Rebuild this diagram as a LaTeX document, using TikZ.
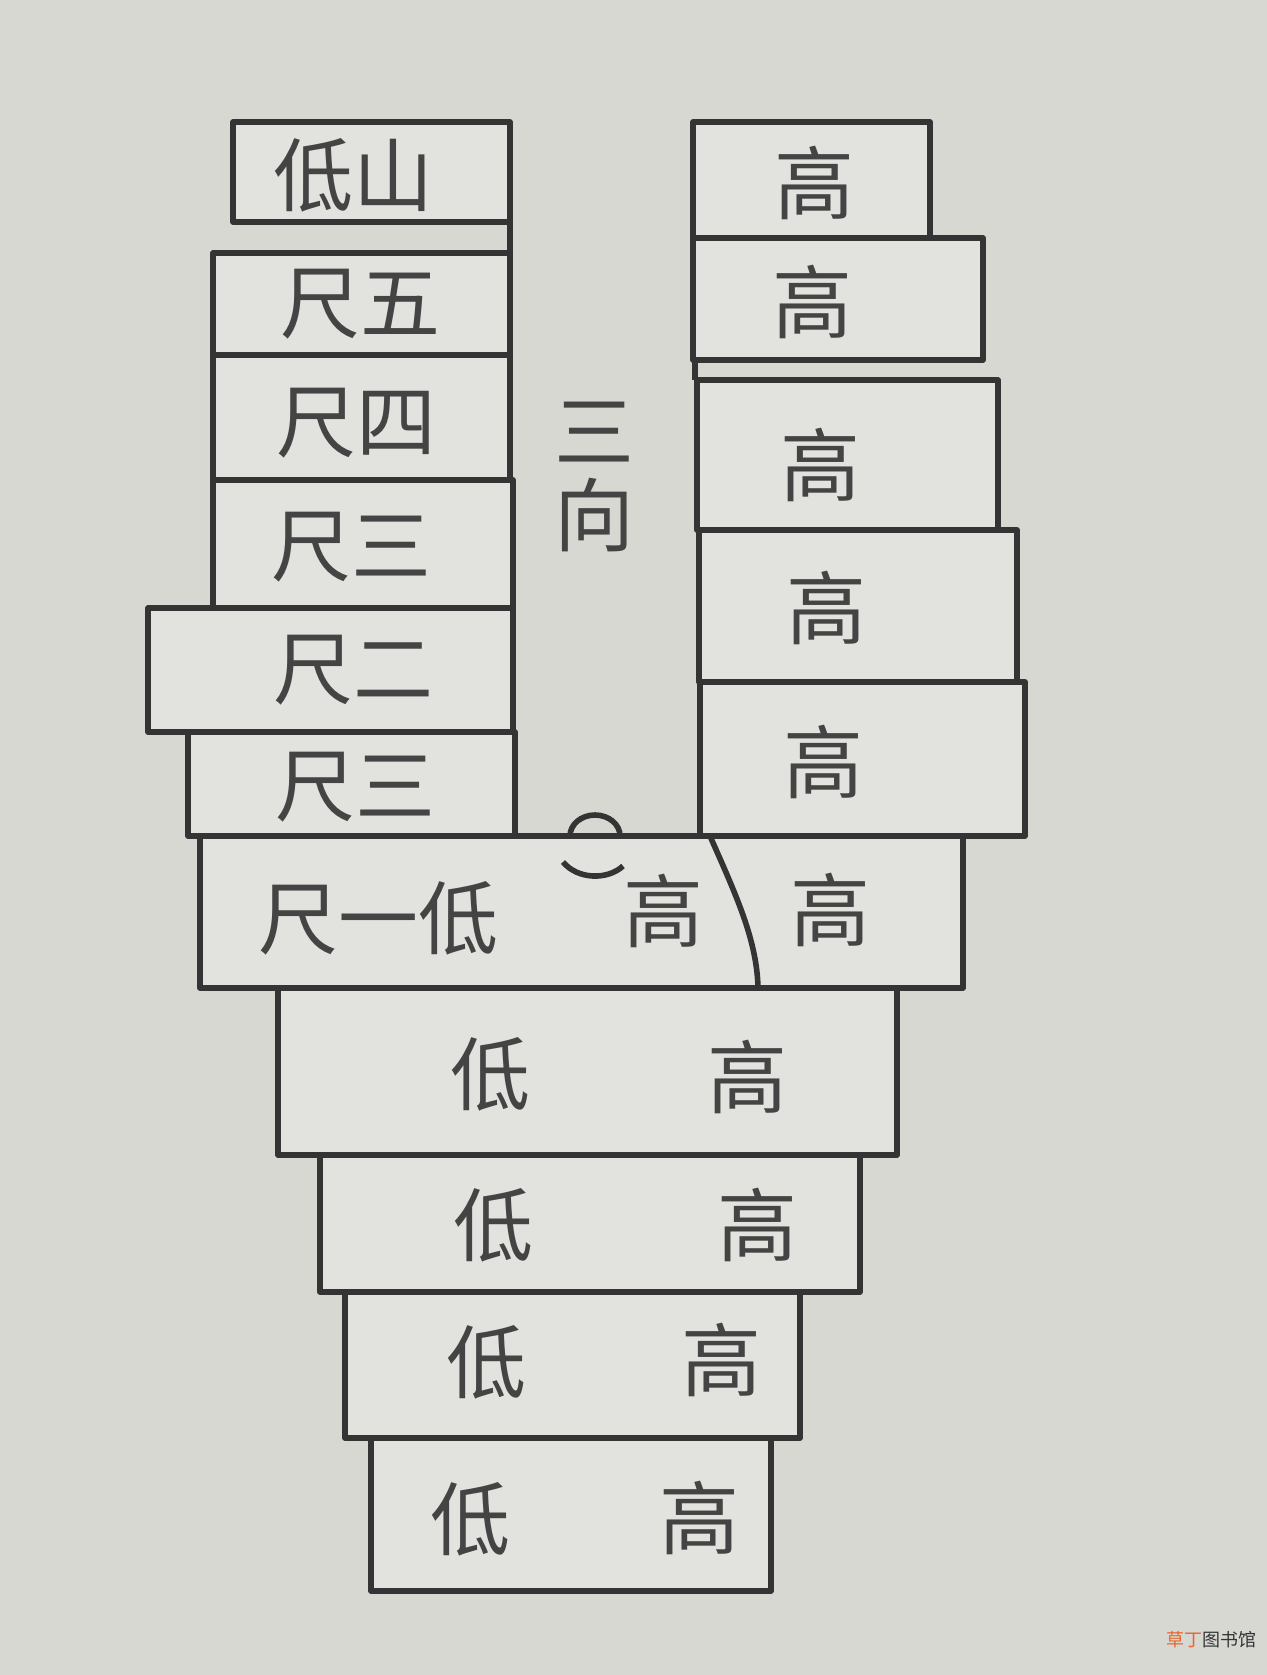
\documentclass[tikz,border=0pt]{standalone}
\usepackage{fontspec}
\newfontfamily\cjk{Noto Sans CJK SC}
\definecolor{paper}{RGB}{216,216,211}
\definecolor{slab}{RGB}{226,226,222}
\definecolor{ink}{RGB}{52,52,52}
\definecolor{glyph}{RGB}{68,68,68}
\definecolor{stamp}{RGB}{232,100,44}

\begin{document}
\begin{tikzpicture}[x=0.5pt, y=-0.5pt,
    slabbox/.style={draw=ink, fill=slab, line width=2.8pt, line join=round},
    edge/.style={draw=ink, line width=2.8pt},
    hanzi/.style={font=\cjk\fontsize{40}{40}\selectfont, text=glyph, inner sep=0pt},
    stampfont/.style={font=\cjk\fontsize{9}{9}\selectfont, inner sep=0pt}]
  \fill[paper] (0,0) rectangle (1267,1675);
  \useasboundingbox (0,0) rectangle (1267,1675);

  % left column
  \draw[slabbox] (233,122) rectangle (510,222);
  \draw[slabbox] (213,253) rectangle (510,355);
  \draw[slabbox] (213,355) rectangle (510,480);
  \draw[slabbox] (213,480) rectangle (513,608);
  \draw[slabbox] (148,608) rectangle (513,732);
  \draw[slabbox] (188,732) rectangle (515,836);
  \draw[edge] (510,222) -- (510,253);

  % right column
  \draw[slabbox] (693,122) rectangle (930,238);
  \draw[slabbox] (693,238) rectangle (983,360);
  \draw[slabbox] (697,380) rectangle (998,530);
  \draw[slabbox] (699,530) rectangle (1017,682);
  \draw[slabbox] (700,682) rectangle (1025,836);
  \draw[edge] (695,360) -- (695,380);

  % lower rows
  \draw[slabbox] (200,836) rectangle (963,988);
  \draw[edge] (710,836) .. controls (736,895) and (757,940) .. (758,988);
  \draw[slabbox] (278,988) rectangle (897,1155);
  \draw[slabbox] (320,1155) rectangle (860,1292);
  \draw[slabbox] (345,1292) rectangle (800,1438);
  \draw[slabbox] (371,1438) rectangle (771,1591);

  % small arcs at the opening
  \draw[edge] (570,836) arc [start angle=180, end angle=360, x radius=25, y radius=21];
  \draw[edge] (563,862) .. controls (578,880) and (608,880) .. (623,866);

  \node[hanzi] (dishan) at (353,175) {低山};
  \node[hanzi] (chiwu) at (360,304) {尺五};
  \node[hanzi] (chisi) at (356,423) {尺四};
  \node[hanzi] (chisanA) at (351,547) {尺三};
  \node[hanzi] (chier) at (353,670) {尺二};
  \node[hanzi] (chisanB) at (355,787) {尺三};
  \node[hanzi, align=center] (sanxiang) at (594,477) {三\\[2pt]向};

  \node[hanzi] (gaoA) at (814,183) {高};
  \node[hanzi] (gaoB) at (812,302) {高};
  \node[hanzi] (gaoC) at (820,465) {高};
  \node[hanzi] (gaoD) at (826,608) {高};
  \node[hanzi] (gaoE) at (823,762) {高};

  \node[hanzi] (chiyi) at (378,918) {尺一低};
  \node[hanzi] (gaoF) at (663,911) {高};
  \node[hanzi] (gaoG) at (830,910) {高};

  \node[hanzi] (diA) at (490,1074) {低};
  \node[hanzi] (gaoH) at (747,1077) {高};
  \node[hanzi] (diB) at (493,1225) {低};
  \node[hanzi] (gaoI) at (757,1225) {高};
  \node[hanzi] (diC) at (486,1362) {低};
  \node[hanzi] (gaoJ) at (721,1360) {高};
  \node[hanzi] (diD) at (470,1519) {低};
  \node[hanzi] (gaoK) at (699,1518) {高};

  \node[stampfont, anchor=east] (stamp) at (1257,1640)
    {\textcolor{stamp}{草丁}\textcolor{ink}{图书馆}};
\end{tikzpicture}
\end{document}
